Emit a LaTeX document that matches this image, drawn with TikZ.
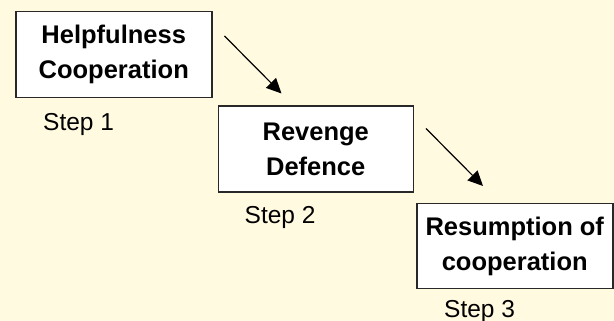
\documentclass[tikz,border=0pt]{standalone}
\usepackage{fontspec}
\setmainfont{Liberation Sans}
\usetikzlibrary{positioning,calc,arrows.meta}
\definecolor{paper}{RGB}{255,250,224}
\definecolor{edge}{RGB}{40,40,40}
\tikzset{line/.style={draw, line width=1.2pt, -{Triangle[length=15pt,width=14pt]}}}

\begin{document}
\begin{tikzpicture}[x=1pt, y=1pt]
\tikzstyle{block} = [rectangle, draw=edge, fill=white, line width=1.5pt, align=center, minimum width=196pt, minimum height=86pt, font=\fontsize{25.5}{35}\selectfont\bfseries]
\tikzstyle{steplabel} = [inner sep=0pt, font=\fontsize{24.5}{28}\selectfont]

% background
    \fill [paper] (0,0) rectangle (614,321);
    \useasboundingbox (0,0) rectangle (614,321);
% blocks
    \node [block, anchor=north west] (help) at (15,310) {Helpfulness\\Cooperation};
    \node [block, below right=7pt and 5pt of help.south east, anchor=north west, minimum width=195pt] (revenge) {Revenge\\Defence};
    \node [block, below right=10pt and 2pt of revenge.south east, anchor=north west, minimum height=85pt] (resume) {Resumption of\\cooperation};
% steps
    \node [steplabel, below right=15pt and 28pt of help.south west, anchor=north west] (step1) {Step 1};
    \node [steplabel, below right=13pt and 27pt of revenge.south west, anchor=north west] (step2) {Step 2};
    \node [steplabel, below right=11pt and 28pt of resume.south west, anchor=north west] (step3) {Step 3};
% arrows
    \coordinate (arr1 start) at ($(help.north east)+(12,-25)$);
    \coordinate (arr1 end) at ($(revenge.north west)+(64,12)$);
    \coordinate (arr2 start) at ($(revenge.north east)+(12,-23)$);
    \coordinate (arr2 end) at ($(resume.north west)+(67,17)$);
    \path [line] (arr1 start) -- (arr1 end);
    \path [line] (arr2 start) -- (arr2 end);
\end{tikzpicture}
\end{document}
